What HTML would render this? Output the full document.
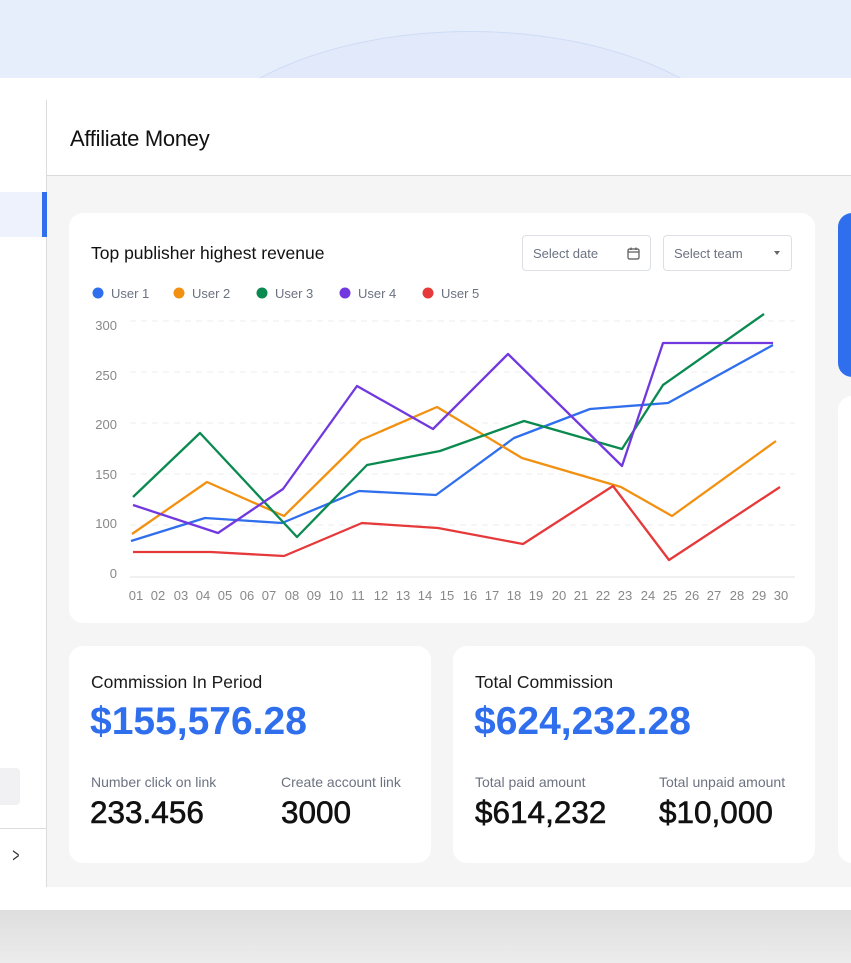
<!DOCTYPE html>
<html><head><meta charset="utf-8"><style>
*{margin:0;padding:0;box-sizing:border-box}
body{width:851px;height:963px;position:relative;overflow:hidden;font-family:"Liberation Sans",Arial,sans-serif;background:#fff}
.a{position:absolute}
.t{position:absolute;white-space:nowrap}
</style></head><body>
<div class="a" style="left:0;top:0;width:851px;height:78px;background:#e6eefc;overflow:hidden">
  <div class="a" style="left:180px;top:31px;width:580px;height:300px;border-radius:50%;border:1px solid #cfdcf5;background:#e1e9fa"></div>
</div>
<div class="a" style="left:0;top:910px;width:851px;height:53px;background:linear-gradient(#dedede,#ececec)"></div>
<div class="a" style="left:46px;top:100px;width:1px;height:787px;background:#dcdcdc"></div>
<div class="a" style="left:0;top:192px;width:42px;height:45px;background:#edf2fd"></div>
<div class="a" style="left:42px;top:192px;width:5px;height:45px;background:#2f6fed"></div>
<div class="a" style="left:0;top:768px;width:20px;height:37px;background:#f1f1f3;border-radius:0 4px 4px 0"></div>
<div class="a" style="left:0;top:828px;width:46px;height:1px;background:#dcdcdc"></div>
<div class="t" style="left:10px;top:845px;font-size:20px;color:#333;transform:scaleX(0.6)">&gt;</div>
<div class="t" style="left:70px;top:126px;font-size:22px;color:#111;letter-spacing:-0.3px">Affiliate Money</div>
<div class="a" style="left:47px;top:175px;width:804px;height:712px;background:#f5f5f5;border-top:1px solid #dadada"></div>
<div class="a" style="left:838px;top:213px;width:40px;height:164px;background:#2f6fed;border-radius:14px"></div>
<div class="a" style="left:838px;top:396px;width:40px;height:467px;background:#fff;border-radius:14px"></div>
<div class="a" style="left:69px;top:213px;width:746px;height:410px;background:#fff;border-radius:14px"></div>
<div class="t" style="left:91px;top:243px;font-size:17.5px;color:#111">Top publisher highest revenue</div>
<div class="a" style="left:522px;top:235px;width:129px;height:36px;border:1px solid #dcdfe4;border-radius:4px"></div>
<div class="t" style="left:533px;top:246px;font-size:13px;color:#6b7280">Select date</div>
<svg class="a" style="left:627px;top:247px" width="13" height="13" viewBox="0 0 13 13"><rect x="1" y="2" width="11" height="10" rx="1.5" fill="none" stroke="#555" stroke-width="1.2"/><line x1="1" y1="5" x2="12" y2="5" stroke="#555" stroke-width="1.2"/><line x1="4" y1="0.5" x2="4" y2="3" stroke="#555" stroke-width="1.2"/><line x1="9" y1="0.5" x2="9" y2="3" stroke="#555" stroke-width="1.2"/></svg>
<div class="a" style="left:663px;top:235px;width:129px;height:36px;border:1px solid #dcdfe4;border-radius:4px"></div>
<div class="t" style="left:674px;top:246px;font-size:13px;color:#6b7280">Select team</div>
<svg class="a" style="left:774px;top:251px" width="6" height="4"><polygon points="0,0 6,0 3,4" fill="#666"/></svg>
<svg class="a" style="left:0;top:0" width="851" height="963">
<g font-family="Liberation Sans,Arial,sans-serif" font-size="13" fill="#6b7280">
<circle cx="98" cy="293" r="5.5" fill="#2f6fed"/><text x="111" y="298">User 1</text>
<circle cx="179" cy="293" r="5.5" fill="#f29111"/><text x="192" y="298">User 2</text>
<circle cx="262" cy="293" r="5.5" fill="#0a8a4f"/><text x="275" y="298">User 3</text>
<circle cx="345" cy="293" r="5.5" fill="#7238e0"/><text x="358" y="298">User 4</text>
<circle cx="428" cy="293" r="5.5" fill="#e5393a"/><text x="441" y="298">User 5</text>
</g>
<g stroke="#ececec" stroke-width="1" stroke-dasharray="6,5">
<line x1="130" y1="321" x2="795" y2="321"/><line x1="130" y1="372" x2="795" y2="372"/><line x1="130" y1="423" x2="795" y2="423"/><line x1="130" y1="474" x2="795" y2="474"/><line x1="130" y1="525" x2="795" y2="525"/>
</g>
<line x1="130" y1="577" x2="795" y2="577" stroke="#ececec" stroke-width="1.5"/>
<g font-family="Liberation Sans,Arial,sans-serif" font-size="13" fill="#888" text-anchor="end">
<text x="117" y="330">300</text><text x="117" y="380">250</text><text x="117" y="429">200</text><text x="117" y="479">150</text><text x="117" y="528">100</text><text x="117" y="578">0</text>
</g>
<g fill="none" stroke-width="2.3" stroke-linejoin="round">
<polyline stroke="#2f6fed" points="131,541 205,518 282,523 359,491 436,495 514,438 590,409 668,403 773,345"/>
<polyline stroke="#f29111" points="132,534 207,482 284,516 361,440 437,407 522,458 621,487 672,516 776,441"/>
<polyline stroke="#0a8a4f" points="133,497 200,433 297,537 367,465 440,451 524,421 622,449 663,385 764,314"/>
<polyline stroke="#7238e0" points="133,505 218,533 283,489 357,386 433,429 508,354 622,466 663,343 773,343"/>
<polyline stroke="#e5393a" points="133,552 211,552 284,556 362,523 438,528 523,544 613,486 669,560 780,487"/>
</g>
<g font-family="Liberation Sans,Arial,sans-serif" font-size="13" fill="#888" text-anchor="middle">
<text x="136" y="600">01</text><text x="158" y="600">02</text><text x="181" y="600">03</text><text x="203" y="600">04</text><text x="225" y="600">05</text><text x="247" y="600">06</text><text x="269" y="600">07</text><text x="292" y="600">08</text><text x="314" y="600">09</text><text x="336" y="600">10</text><text x="358" y="600">11</text><text x="381" y="600">12</text><text x="403" y="600">13</text><text x="425" y="600">14</text><text x="447" y="600">15</text><text x="470" y="600">16</text><text x="492" y="600">17</text><text x="514" y="600">18</text><text x="536" y="600">19</text><text x="559" y="600">20</text><text x="581" y="600">21</text><text x="603" y="600">22</text><text x="625" y="600">23</text><text x="648" y="600">24</text><text x="670" y="600">25</text><text x="692" y="600">26</text><text x="714" y="600">27</text><text x="737" y="600">28</text><text x="759" y="600">29</text><text x="781" y="600">30</text>
</g>
</svg>
<div class="a" style="left:69px;top:646px;width:362px;height:217px;background:#fff;border-radius:14px"></div>
<div class="a" style="left:453px;top:646px;width:362px;height:217px;background:#fff;border-radius:14px"></div>
<div class="t" style="left:91px;top:672px;font-size:17.5px;color:#1a1a1a">Commission In Period</div>
<div class="t" style="left:90px;top:700px;font-size:39px;font-weight:bold;color:#2f6fed">$155,576.28</div>
<div class="t" style="left:91px;top:774px;font-size:14px;color:#6b7280">Number click on link</div>
<div class="t" style="left:281px;top:774px;font-size:14px;color:#6b7280">Create account link</div>
<div class="t" style="left:90px;top:794px;font-size:31.5px;color:#111;-webkit-text-stroke:0.6px #111">233.456</div>
<div class="t" style="left:281px;top:794px;font-size:31.5px;color:#111;-webkit-text-stroke:0.6px #111">3000</div>
<div class="t" style="left:475px;top:672px;font-size:17.5px;color:#1a1a1a">Total Commission</div>
<div class="t" style="left:474px;top:700px;font-size:39px;font-weight:bold;color:#2f6fed">$624,232.28</div>
<div class="t" style="left:475px;top:774px;font-size:14px;color:#6b7280">Total paid amount</div>
<div class="t" style="left:659px;top:774px;font-size:14px;color:#6b7280">Total unpaid amount</div>
<div class="t" style="left:475px;top:794px;font-size:31.5px;color:#111;-webkit-text-stroke:0.6px #111">$614,232</div>
<div class="t" style="left:659px;top:794px;font-size:31.5px;color:#111;-webkit-text-stroke:0.6px #111">$10,000</div>
</body></html>
